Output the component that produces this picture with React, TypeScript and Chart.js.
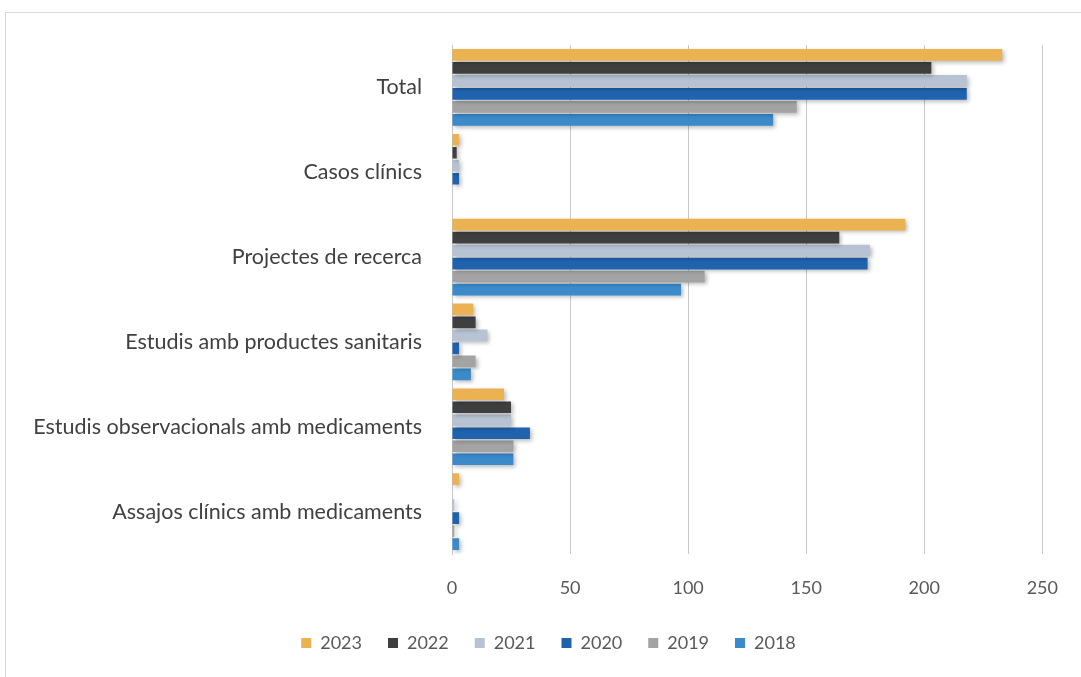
import React, { useEffect, useRef } from "react";
import { Chart, registerables } from "chart.js";

Chart.register(...registerables);

const categories = [
  "Total",
  "Casos clínics",
  "Projectes de recerca",
  "Estudis amb productes sanitaris",
  "Estudis observacionals amb medicaments",
  "Assajos clínics amb medicaments",
];

const years = ["2023", "2022", "2021", "2020", "2019", "2018"];

const values2023 = [233, 3, 192, 9, 22, 3];
const values2022 = [203, 2, 164, 10, 25, 0];
const values2021 = [218, 3, 177, 15, 25, 1];
const values2020 = [218, 3, 176, 3, 33, 3];
const values2019 = [146, 0, 107, 10, 26, 1];
const values2018 = [136, 0, 97, 8, 26, 3];

const seriesValues = [values2023, values2022, values2021, values2020, values2019, values2018];
const seriesColors = ["#EBB251", "#3F3F3F", "#B7C3D3", "#1F62AE", "#A3A3A3", "#3B8ACB"];

const xTicks = [0, 50, 100, 150, 200, 250];

const shadowPlugin = {
  id: "barShadow",
  beforeDatasetsDraw(chart: any) {
    const ctx = chart.ctx;
    ctx.save();
    ctx.shadowColor = "rgba(0,0,0,0.28)";
    ctx.shadowBlur = 4;
    ctx.shadowOffsetX = 2;
    ctx.shadowOffsetY = 2;
  },
  afterDatasetsDraw(chart: any) {
    chart.ctx.restore();
  },
};

const legendShiftPlugin = {
  id: "legendShift",
  afterLayout(chart: any) {
    if (chart.legend) {
      chart.legend.left += 27;
      chart.legend.right += 27;
    }
  },
};

export default function App() {
  const ref = useRef<HTMLCanvasElement>(null);

  useEffect(() => {
    if (!ref.current) return;
    const chart = new Chart(ref.current, {
      type: "bar",
      data: {
        labels: categories,
        datasets: years.map((y, i) => ({
          label: y,
          data: seriesValues[i],
          backgroundColor: seriesColors[i],
          borderWidth: 0,
          categoryPercentage: 0.92,
          barPercentage: 0.9,
        })),
      },
      plugins: [shadowPlugin, legendShiftPlugin],
      options: {
        indexAxis: "y",
        animation: false,
        responsive: false,
        maintainAspectRatio: false,
        layout: { padding: { top: 45, right: 38, left: 0, bottom: 15 } },
        plugins: {
          tooltip: { enabled: false },
          legend: {
            position: "bottom",
            labels: {
              boxWidth: 10,
              boxHeight: 10,
              padding: 26,
              color: "#595959",
              font: { family: "Lato", size: 18 },
            },
          },
        },
        scales: {
          x: {
            min: 0,
            max: 250,
            afterBuildTicks: (scale: any) => {
              scale.ticks = xTicks.map((v) => ({ value: v }));
            },
            afterFit: (scale: any) => {
              scale.height = 54;
            },
            grid: { color: "#C8C8C8", drawTicks: false, lineWidth: 1 },
            border: { display: false },
            ticks: {
              padding: 23,
              color: "#595959",
              font: { family: "Lato", size: 18 },
            },
          },
          y: {
            afterFit: (scale: any) => {
              scale.width = 452;
            },
            grid: { display: false, drawTicks: false },
            border: { display: true, color: "#C8C8C8" },
            ticks: {
              padding: 30,
              color: "#404040",
              font: { family: "Lato", size: 21.5 },
            },
          },
        },
      },
    });
    return () => chart.destroy();
  }, []);

  return (
    <div style={{ position: "fixed", left: 0, top: 0, width: 1081, height: 677, background: "#fff" }}>
      <div
        style={{
          position: "absolute",
          left: 5,
          top: 12,
          width: 1090,
          height: 700,
          border: "1px solid #D8D8D8",
          boxSizing: "border-box",
        }}
      />
      <canvas ref={ref} width={1081} height={677} style={{ position: "absolute", left: 0, top: 0 }} />
    </div>
  );
}
